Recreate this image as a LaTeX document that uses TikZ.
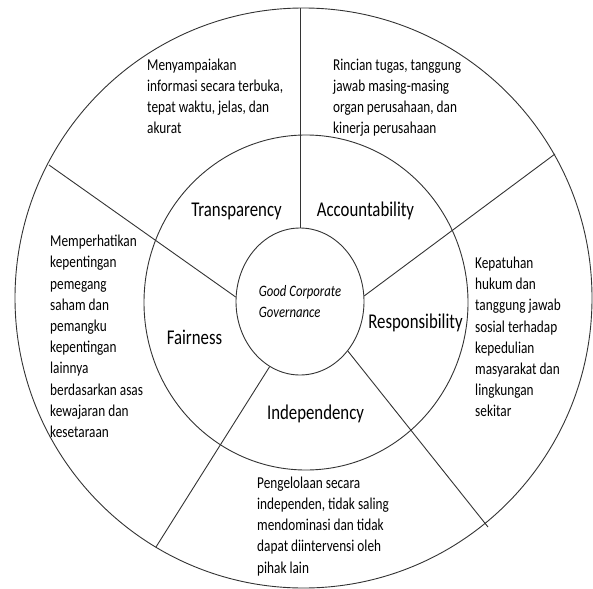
\documentclass[tikz,border=0pt]{standalone}
\usepackage{fontspec}
\setmainfont{Carlito}[FakeStretch=0.8]
\usetikzlibrary{shapes}
\usetikzlibrary{positioning}
\tikzset{
    ringline/.style = {draw=black!80, line width=0.9pt},
    spoke/.style = {-, draw=black!80, line width=0.9pt},
    hub/.style = {ellipse, draw=black!80, line width=0.9pt, minimum width=128pt, minimum height=147pt, inner sep=0pt, align=left, font=\itshape\fontsize{15.9}{21.7}\selectfont},
    pillar/.style = {anchor=base, inner sep=0pt, font=\fontsize{21}{25}\selectfont},
    note/.style = {anchor=base west, inner sep=0pt, align=left, font=\fontsize{16.6}{21.2}\selectfont} % base = last line
}
\begin{document}
\begin{tikzpicture}[x=1pt, y=-1pt]
\path[use as bounding box] (0,0) rectangle (593,588);
% rings
\draw[ringline] (303.5,298) ellipse [x radius=288.5, y radius=290];
\draw[ringline] (306,302.5) ellipse [x radius=162, y radius=167.5];
\node[hub] at (300,301.5) (gcg) {Good Corporate\\Governance};
%
\coordinate (o1) at (300,8);
\coordinate (o2) at (49,165);
\coordinate (o3) at (555,154);
\coordinate (o4) at (488,527);
\coordinate (o5) at (156,547);
\draw[spoke] (gcg.90) -- (o1);
\draw[spoke] (gcg.176) -- (o2);
\draw[spoke] (gcg.5) -- (o3);
\draw[spoke] (gcg.-46) -- (o4);
\draw[spoke] (gcg.-115) -- (o5);
% principles
\node[pillar] at (236.5,216) (transp) {Transparency};
\node[pillar] at (365.5,216) (account) {Accountability};
\node[pillar] at (415.5,328.7) (respon) {Responsibility};
\node[pillar] at (315.5,419.7) (indep) {Independency};
\node[pillar] at (194.5,344.5) (fair) {Fairness};
% descriptions
\node[note] at (147,133.6) (dtransp) {Menyampaiakan\\informasi secara terbuka,\\tepat waktu, jelas, dan\\akurat};
\node[note] at (333,133.6) (daccount) {Rincian tugas, tanggung\\jawab masing-masing\\organ perusahaan, dan\\kinerja perusahaan};
\node[note] at (475,416.9) (drespon) {Kepatuhan\\hukum dan\\tanggung jawab\\sosial terhadap\\kepedulian\\masyarakat dan\\lingkungan\\sekitar};
\node[note] at (257,573.1) (dindep) {Pengelolaan secara\\independen, tidak saling\\mendominasi dan tidak\\dapat diintervensi oleh\\pihak lain};
\node[note] at (50,437.5) (dfair) {Memperhatikan\\kepentingan\\pemegang\\saham dan\\pemangku\\kepentingan\\lainnya\\berdasarkan asas\\kewajaran dan\\kesetaraan};
\end{tikzpicture}
\end{document}
